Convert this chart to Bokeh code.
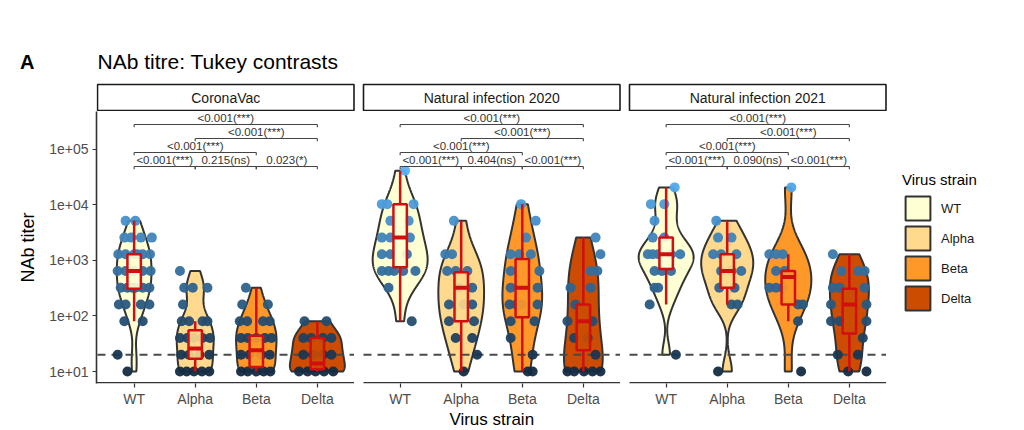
import numpy as np
from bokeh.plotting import figure
from bokeh.layouts import column
from bokeh.models import Range1d, FixedTicker, Legend, LegendItem, LinearAxis
from bokeh.embed import file_html
from bokeh.resources import INLINE
from bokeh.core.properties import value

# ---------------------------------------------------------------- data
PANELS = ["CoronaVac", "Natural infection 2020", "Natural infection 2021"]
STRAINS = ["WT", "Alpha", "Beta", "Delta"]

# NAb titres and the horizontal jitter of each dot
CV_WT = [5120, 5120, 2560, 2560, 2560, 2560, 1280, 1280, 1280, 1280, 1280, 1280,
         640, 640, 640, 640, 640, 640, 320, 320, 320, 320, 320, 320, 160, 160, 160, 160,
         80, 80, 20, 10]
CV_WT_JIT = [-0.14, 0.02, -0.16, -0.05, 0.11, 0.29, -0.26, -0.14, 0.0, 0.14, 0.26, 0.05,
             -0.27, -0.14, 0.0, 0.14, 0.27, -0.05, -0.22, -0.11, 0.02, 0.14, 0.25, -0.03,
             -0.25, -0.14, 0.11, 0.25, -0.16, 0.14, -0.27, -0.11]
CV_ALPHA = [640, 320, 320, 320, 160, 80, 80, 80, 80, 40, 40, 40, 40, 40,
            20, 20, 20, 20, 10, 10, 10, 10, 10]
CV_ALPHA_JIT = [-0.25, -0.18, -0.04, 0.20, -0.20, -0.22, -0.10, 0.12, 0.20,
                -0.25, -0.13, -0.02, 0.12, 0.24, -0.23, -0.10, 0.07, 0.23,
                -0.25, -0.14, -0.02, 0.11, 0.23]
CV_BETA = [320, 160, 160, 80, 80, 80, 80, 40, 40, 40, 40, 40, 20, 20, 20, 20,
           10, 10, 10, 10, 10]
CV_BETA_JIT = [-0.17, -0.23, 0.19, -0.27, -0.15, 0.11, 0.22, -0.25, -0.14, 0.0,
               0.14, 0.25, -0.25, -0.11, 0.08, 0.22, -0.25, -0.14, 0.0, 0.12, 0.23]
CV_DELTA = [80, 80, 40, 40, 40, 40, 20, 20, 20, 20, 10, 10, 10, 10, 10]
CV_DELTA_JIT = [-0.21, 0.15, -0.23, -0.10, 0.09, 0.23, -0.23, -0.07, 0.09, 0.23,
                -0.30, -0.16, -0.03, 0.11, 0.26]

NI20_WT = [40960, 10240, 10240, 10240, 5120, 5120, 2560, 2560, 2560,
           1280, 1280, 1280, 640, 640, 640, 640, 640, 320, 80]
NI20_WT_JIT = [0.08, -0.30, -0.21, 0.22, -0.16, 0.14, -0.30, -0.16,
               0.16, -0.30, -0.16, 0.11, -0.30, -0.19, -0.10, 0.05, 0.25,
               -0.19, 0.19]
NI20_ALPHA = [5120, 1280, 1280, 640, 640, 640, 320, 320, 160, 160, 160, 80, 80,
              40, 40, 20, 10]
NI20_ALPHA_JIT = [-0.12, -0.26, -0.15, -0.23, -0.09, 0.10, -0.04, 0.18, -0.20,
                  0.04, 0.18, -0.20, 0.21, -0.09, 0.18, 0.26, 0.04]
NI20_BETA = [10240, 5120, 2560, 1280, 1280, 1280, 640, 640, 320, 320, 160, 160,
             160, 160, 80, 80, 40, 20, 10, 10]
NI20_BETA_JIT = [-0.02, 0.22, 0.06, -0.19, -0.05, 0.14, -0.19, 0.28, -0.19, 0.25,
                 -0.21, -0.10, -0.01, 0.25, -0.19, 0.20, -0.19, 0.17, 0.09, 0.17]
NI20_DELTA = [2560, 1280, 640, 640, 320, 320, 160, 80, 80, 40, 40, 20,
              10, 10, 10, 10, 10]
NI20_DELTA_JIT = [0.20, 0.28, 0.12, 0.23, -0.21, 0.12, -0.13, -0.26, 0.15, -0.15,
                  0.07, 0.20, -0.26, -0.15, 0.01, 0.15, 0.28]

NI21_WT = [20480, 10240, 10240, 5120, 2560, 2560, 1280, 1280, 1280, 1280, 1280,
           640, 640, 640, 320, 320, 160, 20]
NI21_WT_JIT = [0.14, -0.25, -0.03, -0.19, -0.22, -0.03, -0.30, -0.22, -0.13, 0.08,
               0.23, -0.19, -0.07, 0.08, -0.19, -0.13, -0.27, 0.16]
NI21_ALPHA = [5120, 2560, 2560, 1280, 1280, 1280, 640, 640, 640, 320, 320,
              160, 160, 10]
NI21_ALPHA_JIT = [-0.18, -0.15, 0.07, -0.23, -0.10, 0.15, -0.10, 0.07, 0.23,
                  -0.13, 0.12, 0.07, 0.17, -0.15]
NI21_BETA = [20480, 1280, 1280, 1280, 640, 640, 320, 320, 320, 160, 160, 80, 10]
NI21_BETA_JIT = [0.05, -0.31, -0.20, -0.09, -0.20, -0.06, -0.31, -0.20, -0.09,
                 0.16, 0.24, 0.16, 0.21]
NI21_DELTA = [1280, 640, 640, 640, 320, 320, 320, 160, 160, 80, 80, 80, 40,
              20, 20, 10, 10]
NI21_DELTA_JIT = [-0.27, -0.13, 0.14, 0.25, -0.27, -0.16, 0.25, -0.30, 0.28,
                  -0.30, -0.16, 0.28, 0.22, -0.19, 0.14, -0.02, 0.28]

TITRES = [[CV_WT, CV_ALPHA, CV_BETA, CV_DELTA],
          [NI20_WT, NI20_ALPHA, NI20_BETA, NI20_DELTA],
          [NI21_WT, NI21_ALPHA, NI21_BETA, NI21_DELTA]]
JITTERS = [[CV_WT_JIT, CV_ALPHA_JIT, CV_BETA_JIT, CV_DELTA_JIT],
           [NI20_WT_JIT, NI20_ALPHA_JIT, NI20_BETA_JIT, NI20_DELTA_JIT],
           [NI21_WT_JIT, NI21_ALPHA_JIT, NI21_BETA_JIT, NI21_DELTA_JIT]]

# box plot statistics: [panel][strain]
BOX_LO = [[80, 10, 10, 10], [80, 10, 10, 10], [160, 160, 80, 10]]
BOX_Q1 = [[307, 17, 12, 11], [750, 80, 95, 24], [700, 320, 160, 48]]
BOX_MED = [[640, 26, 24, 14], [2560, 320, 320, 80], [1280, 640, 500, 160]]
BOX_Q3 = [[1280, 55, 44, 40], [10240, 610, 1060, 160], [2560, 1280, 640, 307]]
BOX_HI = [[5120, 80, 320, 80], [40960, 5120, 10240, 2560], [20480, 5120, 1280, 1280]]

# Tukey contrasts
CONTRAST_PAIRS = [(0, 3), (1, 3), (0, 2), (0, 1), (1, 2), (2, 3)]
CONTRAST_ROW = [0, 1, 2, 3, 3, 3]
P_LABELS = [
    ["<0.001(***)", "<0.001(***)", "<0.001(***)", "<0.001(***)", "0.215(ns)", "0.023(*)"],
    ["<0.001(***)", "<0.001(***)", "<0.001(***)", "<0.001(***)", "0.404(ns)", "<0.001(***)"],
    ["<0.001(***)", "<0.001(***)", "<0.001(***)", "<0.001(***)", "0.090(ns)", "<0.001(***)"],
]
DETECTION_LIMIT = 20
Y_TICKS = [10, 100, 1000, 10000, 100000]
Y_TICK_LABELS = ["1e+01", "1e+02", "1e+03", "1e+04", "1e+05"]

# ---------------------------------------------------------------- styles / layout
FONT = "Liberation Sans"
STRAIN_FILL = ["#FFFFD4", "#FED98E", "#FE9929", "#CC4C02"]
OUTLINE = "#333333"
BOX_RED = "#d10f0f"
DOT_LOW = (0x13, 0x2B, 0x43)
DOT_HIGH = (0x56, 0xB1, 0xF7)

W = 1010
BORDER_L = 96             # frame left (page px) for both figures
FRAME_W = W - BORDER_L
TOP_H = 111               # height of the title / strip band
PANEL_LEFT = 97.0         # page px of the first panel's left edge
PANEL_BOTTOM = 383.0      # page px of the panels' bottom edge
UNIT = 61.07              # px per category
PANEL_STEP_PX = 266.0
PANEL_W_PX = 4.2 * UNIT
DECADE = 55.6             # px per decade
IMG_Y_1E1 = 371.0
STRIP_TOP, STRIP_BOTTOM = 84.0, 110.0
BRACKET_IMG_Y = [124.0, 138.0, 152.0, 166.0]
MAIN_FRAME_H = int(PANEL_BOTTOM - TOP_H)


def xd(img_x):
    return 0.4 + (img_x - PANEL_LEFT) / UNIT


def ld(img_y):
    return 1.0 + (IMG_Y_1E1 - img_y) / DECADE


def yd(img_y):
    return 10 ** ld(img_y)


PSTEP = PANEL_STEP_PX / UNIT


def cx(p, i):
    return round(p * PSTEP + i + 1, 4)


def dot_color(v):
    t = (np.log10(v) - 1.0) / (np.log10(40960) - 1.0)
    t = min(max(t, 0.0), 1.0)
    c = [int(round(a + (b - a) * t)) for a, b in zip(DOT_LOW, DOT_HIGH)]
    return "#%02x%02x%02x" % tuple(c)


def bw_nrd0(x):
    hi = np.std(x, ddof=1)
    q75, q25 = np.percentile(x, [75, 25])
    lo = min(hi, (q75 - q25) / 1.34)
    if lo <= 0:
        lo = hi if hi > 0 else 1.0
    return 0.9 * lo * len(x) ** (-0.2)


# ================================================================ top band: title + strips
top = figure(frame_width=FRAME_W, frame_height=TOP_H, output_backend="svg",
             toolbar_location=None,
             x_range=Range1d(BORDER_L, W), y_range=Range1d(TOP_H, 0),
             x_axis_type=None,
             min_border_left=BORDER_L, min_border_right=0, min_border_top=0, min_border_bottom=0)
top.outline_line_color = None
top.grid.visible = False
# the panel tag "A" is carried by the band's (otherwise invisible) left axis
top.yaxis.ticker = FixedTicker(ticks=[61], minor_ticks=[])
top.yaxis.major_label_overrides = {61: "A"}
top.yaxis.axis_line_color = None
top.yaxis.major_tick_line_color = None
top.yaxis.minor_tick_line_color = None
top.yaxis.major_label_text_font = FONT
top.yaxis.major_label_text_font_size = "20px"
top.yaxis.major_label_text_font_style = "bold"
top.yaxis.major_label_text_color = "black"
top.yaxis.major_label_standoff = BORDER_L - 40

top.text([PANEL_LEFT], [61], text=["NAb titre: Tukey contrasts"], text_font=value(FONT),
         text_font_size=value("21px"), text_color="black", text_baseline="middle")
sl_px = [PANEL_LEFT + k * PANEL_STEP_PX for k in range(3)]
sr_px = [a + PANEL_W_PX for a in sl_px]
top.quad(left=sl_px, right=sr_px, top=[STRIP_TOP] * 3, bottom=[STRIP_BOTTOM] * 3,
         fill_color="white", line_color="#1a1a1a", line_width=1.6)
top.text([(a + b) / 2 for a, b in zip(sl_px, sr_px)], [(STRIP_TOP + STRIP_BOTTOM) / 2] * 3,
         text=PANELS, text_font=value(FONT), text_font_size=value("14px"),
         text_color="#1a1a1a", text_align="center", text_baseline="middle")

# ================================================================ panels
p = figure(frame_width=FRAME_W, frame_height=MAIN_FRAME_H, output_backend="svg",
           toolbar_location=None,
           x_range=Range1d(xd(BORDER_L), xd(W)),
           y_range=Range1d(yd(PANEL_BOTTOM), yd(TOP_H)),
           y_axis_type="log",
           min_border_left=BORDER_L, min_border_right=0,
           min_border_top=0, min_border_bottom=0)
p.outline_line_color = None
p.grid.visible = False

xticks = [cx(pi, i) for pi in range(3) for i in range(4)]
p.xaxis.ticker = FixedTicker(ticks=xticks, minor_ticks=[])
p.xaxis.major_label_overrides = {t: STRAINS[k % 4] for k, t in enumerate(xticks)}
p.yaxis.ticker = FixedTicker(ticks=Y_TICKS, minor_ticks=[])
p.yaxis.major_label_overrides = {t: s for t, s in zip(Y_TICKS, Y_TICK_LABELS)}
for ax in (p.xaxis, p.yaxis):
    ax.major_tick_line_color = OUTLINE
    ax.major_tick_line_width = 1.2
    ax.major_tick_out = 4
    ax.major_tick_in = 0
    ax.minor_tick_line_color = None
    ax.major_label_text_font = FONT
    ax.major_label_text_font_size = "14px"
    ax.major_label_text_color = "#4d4d4d"
    ax.major_label_standoff = 4
    ax.axis_label_text_font = FONT
    ax.axis_label_text_font_style = "normal"
    ax.axis_label_text_color = "black"
p.xaxis.major_label_standoff = 3
p.xaxis.axis_line_color = None
p.yaxis.axis_line_color = OUTLINE
p.yaxis.axis_line_width = 1.6
p.yaxis.axis_label = "NAb titer"
p.yaxis.axis_label_text_font_size = "18px"
p.yaxis.axis_label_standoff = 8

# x title centred under the three panels (second, label-only axis)
x_title_pos = round((cx(0, 0) - 0.6 + cx(2, 3) + 0.6) / 2, 4)
xt_axis = LinearAxis(ticker=FixedTicker(ticks=[x_title_pos], minor_ticks=[]),
                     major_label_overrides={x_title_pos: "Virus strain"},
                     axis_line_color=None, major_tick_line_color=None,
                     minor_tick_line_color=None, major_tick_out=0, major_tick_in=0,
                     major_label_standoff=0, major_label_text_font=FONT,
                     major_label_text_font_size="17px", major_label_text_color="black")
p.add_layout(xt_axis, "below")

# ---- violins (gaussian KDE on log10 scale, trimmed, area-scaled per panel)
viol_xs = [[] for _ in STRAINS]
viol_ys = [[] for _ in STRAINS]
for pi in range(3):
    dens = []
    for i in range(4):
        lv = np.log10(np.array(TITRES[pi][i], dtype=float))
        bw = bw_nrd0(lv)
        grid = np.linspace(lv.min(), lv.max(), 512)
        d = np.exp(-0.5 * ((grid[:, None] - lv[None, :]) / bw) ** 2).sum(1)
        d = d / (len(lv) * bw * np.sqrt(2 * np.pi))
        dens.append((grid, d))
    dmax = max(d.max() for _, d in dens)
    for i, (grid, d) in enumerate(dens):
        hw = 0.45 * d / dmax
        c = cx(pi, i)
        xs = np.concatenate([c + hw, (c - hw)[::-1]])
        ys = np.concatenate([10 ** grid, (10 ** grid)[::-1]])
        viol_xs[i].append(list(xs))
        viol_ys[i].append(list(ys))

viol_renderers = []
for i in range(4):
    r = p.patches(viol_xs[i], viol_ys[i], fill_color=STRAIN_FILL[i],
                  line_color=OUTLINE, line_width=2)
    viol_renderers.append(r)

# ---- detection limit
for pi in range(3):
    p.segment(x0=[cx(pi, 0) - 0.6], x1=[cx(pi, 3) + 0.6],
              y0=[DETECTION_LIMIT], y1=[DETECTION_LIMIT],
              line_color="#4a4a4a", line_width=1.8, line_dash="8 6")

# ---- dots
px, py, pc = [], [], []
for pi in range(3):
    for i in range(4):
        for v, j in zip(TITRES[pi][i], JITTERS[pi][i]):
            px.append(cx(pi, i) + j)
            py.append(v)
            pc.append(dot_color(v))
p.scatter(px, py, size=10, fill_color=pc, line_color=None, fill_alpha=0.95)

# ---- box plots (filled with the strain colour, drawn over the dots)
bx0, bx1, blo, bq1, bmed, bq3, bhi, bc, bfill = [], [], [], [], [], [], [], [], []
for pi in range(3):
    for i in range(4):
        c = cx(pi, i)
        bc.append(c)
        bx0.append(c - 0.11)
        bx1.append(c + 0.11)
        bfill.append(STRAIN_FILL[i])
        blo.append(BOX_LO[pi][i]); bq1.append(BOX_Q1[pi][i]); bmed.append(BOX_MED[pi][i])
        bq3.append(BOX_Q3[pi][i]); bhi.append(BOX_HI[pi][i])
p.segment(x0=bc, x1=bc, y0=blo, y1=bq1, line_color=BOX_RED, line_width=2.5)
p.segment(x0=bc, x1=bc, y0=bq3, y1=bhi, line_color=BOX_RED, line_width=2.5)
p.quad(left=bx0, right=bx1, bottom=bq1, top=bq3, fill_color=bfill, fill_alpha=0.9,
       line_color=BOX_RED, line_width=2.5)
p.segment(x0=bx0, x1=bx1, y0=bmed, y1=bmed, line_color=BOX_RED, line_width=4)

# ---- contrast brackets
hx0, hx1, hy, tx, ty0, ty1 = [], [], [], [], [], []
lx, ly, lt = [], [], []
for pi in range(3):
    for k, (a, b) in enumerate(CONTRAST_PAIRS):
        L = ld(BRACKET_IMG_Y[CONTRAST_ROW[k]])
        x0, x1 = cx(pi, a), cx(pi, b)
        hx0.append(x0); hx1.append(x1); hy.append(10 ** L)
        for xx in (x0, x1):
            tx.append(xx); ty0.append(10 ** L); ty1.append(10 ** (L - 0.05))
        lx.append((x0 + x1) / 2); ly.append(10 ** (L + 0.015)); lt.append(P_LABELS[pi][k])
p.segment(x0=hx0, x1=hx1, y0=hy, y1=hy, line_color="#444444", line_width=1.1)
p.segment(x0=tx, x1=tx, y0=ty0, y1=ty1, line_color="#444444", line_width=1.1)
p.text(lx, ly, text=lt, text_font=value(FONT), text_font_size=value("11.5px"),
       text_color="#333333", text_align="center", text_baseline="bottom")

# ---- bottom axis lines, one per panel (just inside the frame)
sl = [cx(pi, 0) - 0.6 for pi in range(3)]
sr = [cx(pi, 3) + 0.6 for pi in range(3)]
ybot_line = 10 ** (ld(PANEL_BOTTOM) + 0.8 / DECADE)
p.segment(x0=[xd(BORDER_L)] + sl[1:], x1=sr, y0=[ybot_line] * 3, y1=[ybot_line] * 3,
          line_color=OUTLINE, line_width=1.6)

# ---- legend
legend = Legend(items=[LegendItem(label=s, renderers=[r]) for s, r in zip(STRAINS, viol_renderers)],
                location=(806, 70), title="Virus strain", title_text_font=FONT,
                title_text_font_size="15px", title_text_font_style="normal",
                title_text_color="black", title_standoff=5,
                label_text_font=FONT, label_text_font_size="13px", label_text_color="#1a1a1a",
                glyph_width=31, glyph_height=30, spacing=0, label_standoff=8,
                padding=0, margin=0, border_line_color=None, background_fill_alpha=0)
p.add_layout(legend)

open("out.html", "w").write(file_html(column(top, p), INLINE))
